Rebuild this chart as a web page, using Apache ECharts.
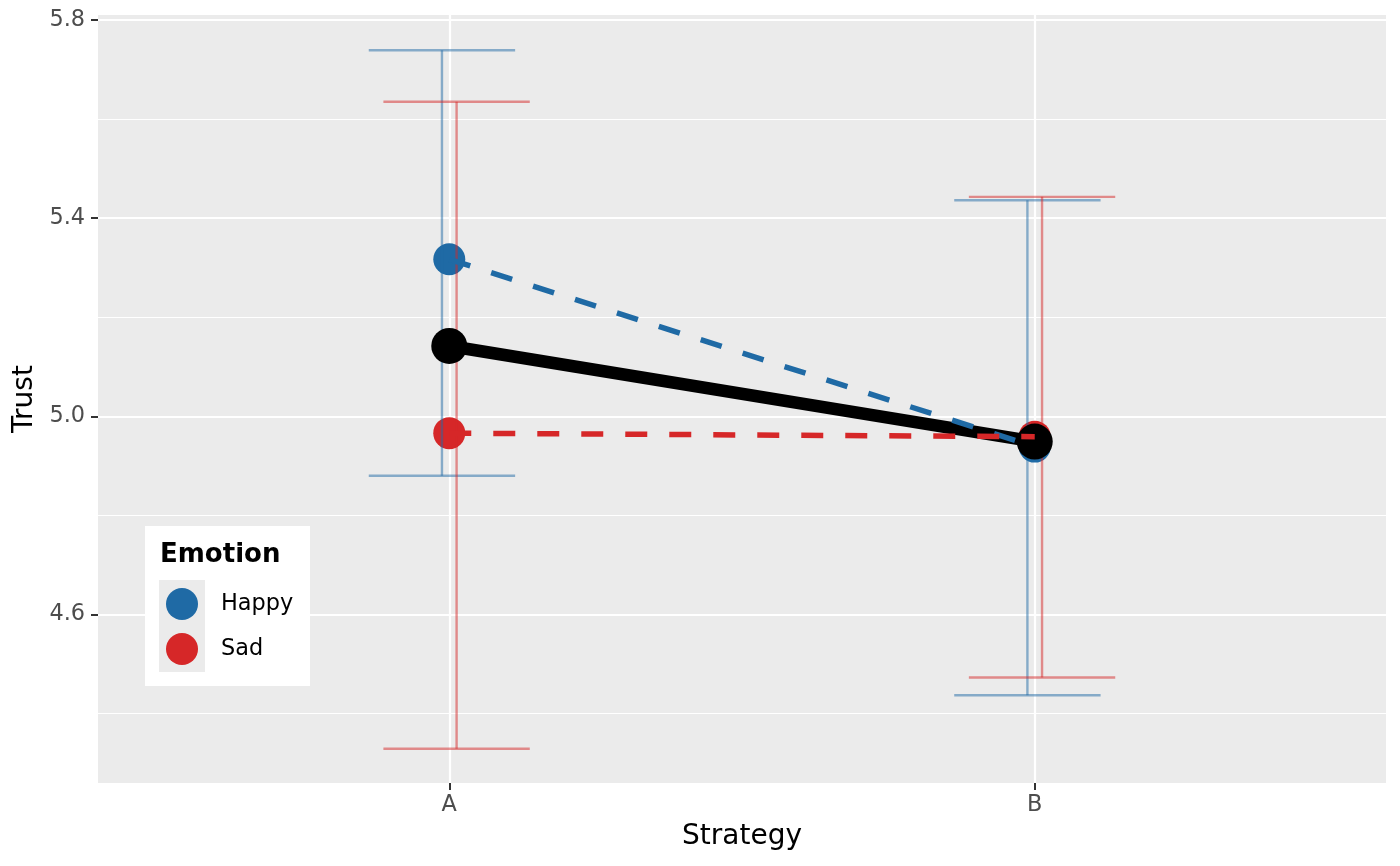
<!doctype html>
<html lang="en">
<head>
    <meta charset="UTF-8">
    <title>Trust by Strategy and Emotion</title>
    <script src="https://cdn.jsdelivr.net/npm/echarts@6/dist/echarts.min.js"></script>
    <style>
        html, body { margin: 0; padding: 0; background: #fff; }
    </style>
</head>
<body>
<div id="main" style="width: 1400px;height:866px;"></div>
<script type="text/javascript">
    // data
    var categories = ['A', 'B'];
    var categoryPos = [1, 2];

    var happyMean = [5.317, 4.939];
    var happyLow  = [4.880, 4.437];
    var happyHigh = [5.739, 5.436];

    var sadMean = [4.966, 4.959];
    var sadLow  = [4.329, 4.473];
    var sadHigh = [5.635, 5.443];

    var overallMean = [5.142, 4.949];

    var yMajorTicks = [4.6, 5.0, 5.4, 5.8];
    var yMinorTicks = [4.4, 4.8, 5.2, 5.6];

    var blue = '#1f6aa5';
    var red = '#d62728';
    var dodge = 0.0125;
    var capHalf = 0.125;

    function pairs(ys, shift) {
        var out = [];
        for (var i = 0; i < ys.length; i++) {
            out.push([categoryPos[i] + (shift || 0), ys[i]]);
        }
        return out;
    }

    function bars(lows, highs, shift) {
        var out = [];
        for (var i = 0; i < lows.length; i++) {
            out.push([categoryPos[i] + shift, lows[i], highs[i]]);
        }
        return out;
    }

    function errorBarSeries(name, data, color) {
        return {
            name: name,
            type: 'custom',
            z: 2,
            silent: true,
            data: data,
            renderItem: function (params, api) {
                var x = api.value(0);
                var lo = api.coord([x, api.value(1)]);
                var hi = api.coord([x, api.value(2)]);
                var left = api.coord([x - capHalf, api.value(1)])[0];
                var right = api.coord([x + capHalf, api.value(1)])[0];
                var st = { stroke: color, lineWidth: 2.4 };
                return {
                    type: 'group',
                    children: [
                        { type: 'line', shape: { x1: hi[0], y1: hi[1], x2: lo[0], y2: lo[1] }, style: st },
                        { type: 'line', shape: { x1: left, y1: hi[1], x2: right, y2: hi[1] }, style: st },
                        { type: 'line', shape: { x1: left, y1: lo[1], x2: right, y2: lo[1] }, style: st }
                    ]
                };
            }
        };
    }

    var font = 'DejaVu Sans';
    var myChart = echarts.init(document.getElementById('main'));

    var option = {
        animation: false,
        textStyle: { fontFamily: font },
        grid: { left: 98, right: 14, top: 15, bottom: 83, show: true, backgroundColor: '#ebebeb', borderWidth: 0 },
        xAxis: {
            type: 'value',
            min: 0.4,
            max: 2.6,
            name: 'Strategy',
            nameLocation: 'middle',
            nameGap: 40,
            nameTextStyle: { fontSize: 28, color: '#000', fontFamily: font },
            axisLine: { show: false },
            axisTick: { show: true, length: 7, customValues: categoryPos, lineStyle: { color: '#333', width: 2 } },
            axisLabel: {
                customValues: categoryPos,
                margin: 11,
                fontSize: 22.4,
                color: '#4d4d4d',
                fontFamily: font,
                formatter: function (v) { return categories[Math.round(v) - 1] || ''; }
            },
            splitLine: { show: true, lineStyle: { color: '#fff', width: 2.2 } }
        },
        yAxis: [{
            type: 'value',
            min: 4.26,
            max: 5.81,
            name: 'Trust',
            nameLocation: 'middle',
            nameGap: 54,
            nameRotate: 90,
            nameTextStyle: { fontSize: 28, color: '#000', fontFamily: font },
            axisLine: { show: false },
            axisTick: { show: true, length: 7, customValues: yMajorTicks, lineStyle: { color: '#333', width: 2 } },
            axisLabel: {
                customValues: yMajorTicks,
                margin: 13,
                fontSize: 22.4,
                color: '#4d4d4d',
                fontFamily: font,
                formatter: function (v) { return v.toFixed(1); }
            },
            splitLine: { show: true, lineStyle: { color: '#fff', width: 2.2 } }
        }, {
            type: 'value',
            min: 4.26,
            max: 5.81,
            position: 'left',
            axisLine: { show: false },
            axisTick: { show: false, customValues: yMinorTicks },
            axisLabel: { show: false, customValues: yMinorTicks },
            splitLine: { show: true, lineStyle: { color: '#fff', width: 1.1 } }
        }],
        legend: {
            data: ['Happy', 'Sad'],
            orient: 'vertical',
            left: 166,
            top: 588,
            icon: 'circle',
            itemWidth: 32,
            itemHeight: 32,
            itemGap: 13,
            backgroundColor: 'transparent',
            padding: 0,
            selectedMode: false,
            z: 10,
            textStyle: { fontSize: 22.4, color: '#000', fontFamily: font, padding: [0, 0, 0, 18] }
        },
        graphic: [
            { type: 'rect', z: 5, shape: { x: 145, y: 526, width: 165, height: 160 }, style: { fill: '#fff' } },
            { type: 'rect', z: 6, shape: { x: 159, y: 580, width: 46, height: 92 }, style: { fill: '#ebebeb' } },
            { type: 'text', z: 6, x: 160, y: 555, style: { text: 'Emotion', font: 'bold 26px "DejaVu Sans"', fill: '#000', verticalAlign: 'middle' } }
        ],
        series: [
            {
                name: 'Happy',
                type: 'scatter',
                z: 1,
                symbol: 'circle',
                symbolSize: 32,
                itemStyle: { color: blue, opacity: 1 },
                data: pairs(happyMean)
            },
            {
                name: 'Sad',
                type: 'scatter',
                z: 1,
                symbol: 'circle',
                symbolSize: 32,
                itemStyle: { color: red, opacity: 1 },
                data: pairs(sadMean)
            },
            errorBarSeries('Happy CI', bars(happyLow, happyHigh, -dodge), 'rgba(31,106,165,0.5)'),
            errorBarSeries('Sad CI', bars(sadLow, sadHigh, dodge), 'rgba(214,39,40,0.5)'),
            {
                name: 'Overall',
                type: 'line',
                z: 3,
                symbol: 'circle',
                symbolSize: 36,
                lineStyle: { color: '#000', width: 12.5 },
                itemStyle: { color: '#000' },
                data: pairs(overallMean)
            },
            {
                name: 'Happy line',
                type: 'line',
                z: 4,
                showSymbol: false,
                lineStyle: { color: blue, width: 5.5, type: [22, 22] },
                data: pairs(happyMean)
            },
            {
                name: 'Sad line',
                type: 'line',
                z: 4,
                showSymbol: false,
                lineStyle: { color: red, width: 5.5, type: [22, 22] },
                data: pairs(sadMean)
            }
        ]
    };

    myChart.setOption(option);
</script>
</body>
</html>
